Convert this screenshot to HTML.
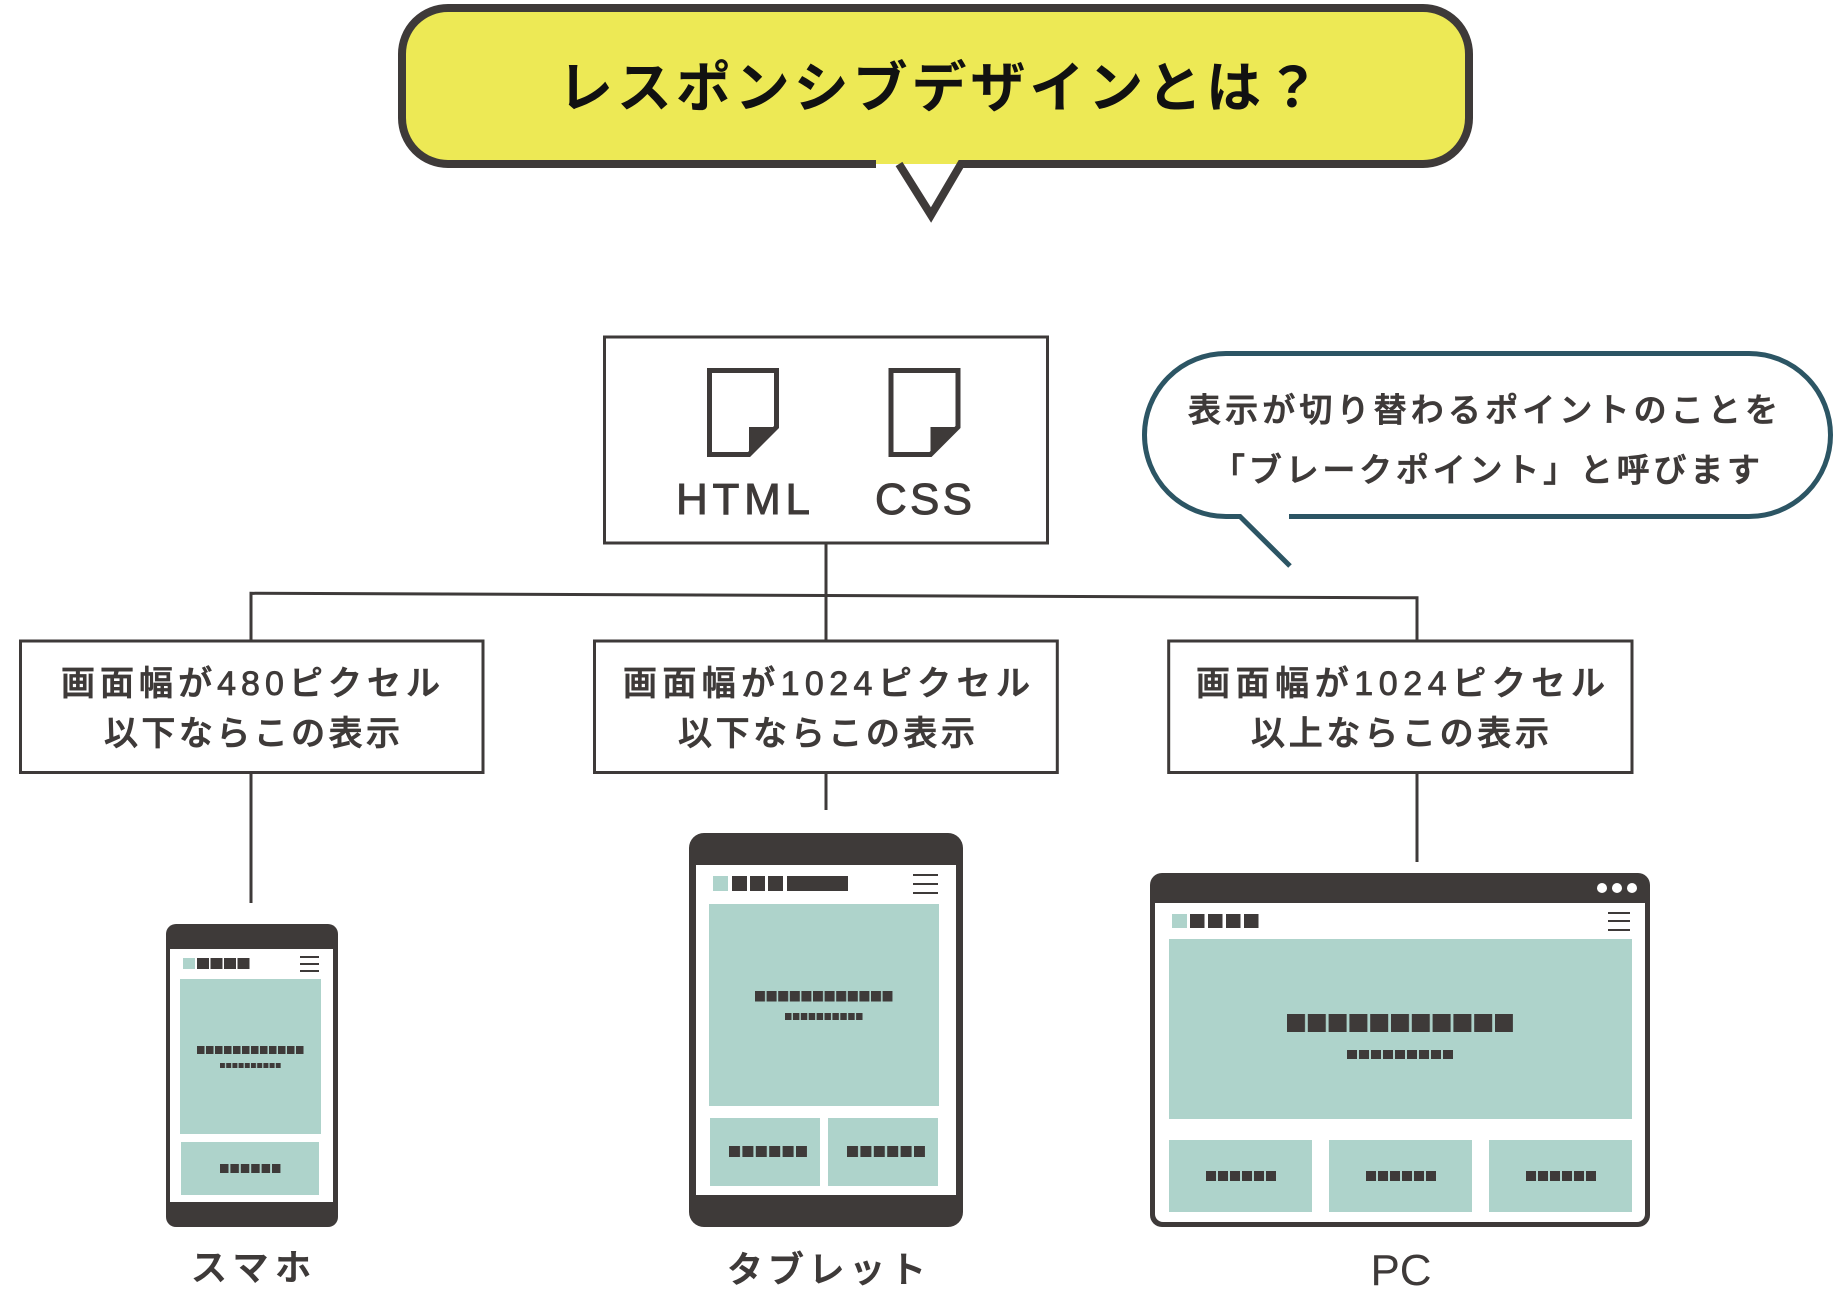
<!DOCTYPE html>
<html>
<head>
<meta charset="utf-8">
<style>
html,body{margin:0;padding:0;background:#fff;}
svg{display:block;}
text{font-family:"Liberation Sans","Noto Sans CJK JP",sans-serif;}
</style>
</head>
<body>
<svg width="1843" height="1296" viewBox="0 0 1843 1296" xmlns="http://www.w3.org/2000/svg">
<defs>
  <pattern id="phH" x="197" y="0" width="13.5" height="2000" patternUnits="userSpaceOnUse"><rect width="12" height="2000" fill="#3e3a39"/></pattern>
  <pattern id="phT" x="197" y="0" width="9" height="2000" patternUnits="userSpaceOnUse"><rect width="7.5" height="2000" fill="#3e3a39"/></pattern>
  <pattern id="phS" x="220" y="0" width="6.2" height="2000" patternUnits="userSpaceOnUse"><rect width="5" height="2000" fill="#3e3a39"/></pattern>
  <pattern id="phB" x="220" y="0" width="10.4" height="2000" patternUnits="userSpaceOnUse"><rect width="8.5" height="2000" fill="#3e3a39"/></pattern>

  <pattern id="tbH" x="732" y="0" width="18" height="2000" patternUnits="userSpaceOnUse"><rect width="15" height="2000" fill="#3e3a39"/></pattern>
  <pattern id="tbT" x="755" y="0" width="11.6" height="2000" patternUnits="userSpaceOnUse"><rect width="10" height="2000" fill="#3e3a39"/></pattern>
  <pattern id="tbS" x="785" y="0" width="7.9" height="2000" patternUnits="userSpaceOnUse"><rect width="6.5" height="2000" fill="#3e3a39"/></pattern>
  <pattern id="tbB1" x="729" y="0" width="13.4" height="2000" patternUnits="userSpaceOnUse"><rect width="11" height="2000" fill="#3e3a39"/></pattern>
  <pattern id="tbB2" x="847" y="0" width="13.4" height="2000" patternUnits="userSpaceOnUse"><rect width="11" height="2000" fill="#3e3a39"/></pattern>

  <pattern id="pcH" x="1190" y="0" width="18" height="2000" patternUnits="userSpaceOnUse"><rect width="14.5" height="2000" fill="#3e3a39"/></pattern>
  <pattern id="pcT" x="1287" y="0" width="20.8" height="2000" patternUnits="userSpaceOnUse"><rect width="18" height="2000" fill="#3e3a39"/></pattern>
  <pattern id="pcS" x="1347" y="0" width="12" height="2000" patternUnits="userSpaceOnUse"><rect width="10" height="2000" fill="#3e3a39"/></pattern>
  <pattern id="pcB1" x="1206" y="0" width="12" height="2000" patternUnits="userSpaceOnUse"><rect width="10" height="2000" fill="#3e3a39"/></pattern>
  <pattern id="pcB2" x="1366" y="0" width="12" height="2000" patternUnits="userSpaceOnUse"><rect width="10" height="2000" fill="#3e3a39"/></pattern>
  <pattern id="pcB3" x="1526" y="0" width="12" height="2000" patternUnits="userSpaceOnUse"><rect width="10" height="2000" fill="#3e3a39"/></pattern>
</defs>

<rect width="1843" height="1296" fill="#fff"/>

<!-- Title bubble -->
<rect x="402" y="8" width="1067" height="156" rx="46" fill="#ede955"/>
<path d="M876,164 H448 A46,46 0 0 1 402,118 V54 A46,46 0 0 1 448,8 H1423 A46,46 0 0 1 1469,54 V118 A46,46 0 0 1 1423,164 H961 L931,215 L899,164" fill="none" stroke="#3e3a39" stroke-width="8" stroke-linejoin="miter"/>
<text x="558" y="107" font-size="55" font-weight="700" fill="#111" textLength="762" lengthAdjust="spacing">レスポンシブデザインとは？</text>

<!-- Right speech bubble -->
<path d="M1289,516.5 H1749 A81.5,81.5 0 0 0 1749,353.5 H1226 A81.5,81.5 0 0 0 1226,516.5 H1240 L1290,566" fill="none" stroke="#2c5564" stroke-width="5" stroke-linejoin="miter"/>
<g font-size="33" font-weight="500" fill="#3e3a39" stroke="#3e3a39" stroke-width="0.8">
<text x="1188" y="421.5" textLength="590" lengthAdjust="spacing">表示が切り替わるポイントのことを</text>
<text x="1212" y="481.5" textLength="548" lengthAdjust="spacing">「ブレークポイント」と呼びます</text>
</g>

<!-- HTML/CSS box -->
<rect x="604.5" y="337" width="443" height="206" fill="none" stroke="#3e3a39" stroke-width="3"/>
<path d="M709.5,370.5 H776.5 V427 L749,454.5 H709.5 Z" fill="none" stroke="#3e3a39" stroke-width="5" stroke-linejoin="miter"/>
<path d="M749,427 H776.5 L749,454.5 Z" fill="#3e3a39"/>
<path d="M891,370.5 H958 V427 L930.5,454.5 H891 Z" fill="none" stroke="#3e3a39" stroke-width="5" stroke-linejoin="miter"/>
<path d="M930.5,427 H958 L930.5,454.5 Z" fill="#3e3a39"/>
<g font-size="44" fill="#3e3a39" stroke="#3e3a39" stroke-width="1">
<text x="676" y="514" textLength="134" lengthAdjust="spacing">HTML</text>
<text x="875" y="514" textLength="97" lengthAdjust="spacing">CSS</text>
</g>

<!-- connectors -->
<g fill="none" stroke="#3e3a39" stroke-width="3">
  <path d="M826,543 V641"/>
  <path d="M251,641 V593.3 L1417,597.8 V641"/>
  <path d="M251,773 V903"/>
  <path d="M826,773 V810"/>
  <path d="M1417,773 V862"/>
</g>

<!-- condition boxes -->
<g fill="none" stroke="#3e3a39" stroke-width="3">
  <rect x="20.5" y="641" width="462.5" height="131.5"/>
  <rect x="594.5" y="641" width="462.8" height="131.5"/>
  <rect x="1168.7" y="641" width="463.3" height="131.5"/>
</g>
<g font-size="34" font-weight="500" fill="#3e3a39" stroke="#3e3a39" stroke-width="0.8">
  <text x="61" y="695" textLength="379" lengthAdjust="spacing">画面幅が480ピクセル</text>
  <text x="104" y="745" textLength="296" lengthAdjust="spacing">以下ならこの表示</text>
  <text x="623" y="695" textLength="407" lengthAdjust="spacing">画面幅が1024ピクセル</text>
  <text x="678" y="745" textLength="297" lengthAdjust="spacing">以下ならこの表示</text>
  <text x="1196" y="695" textLength="409" lengthAdjust="spacing">画面幅が1024ピクセル</text>
  <text x="1251" y="745" textLength="298" lengthAdjust="spacing">以上ならこの表示</text>
</g>

<!-- Phone -->
<rect x="166" y="924" width="172" height="303" rx="10" fill="#3e3a39"/>
<rect x="170" y="949" width="163" height="253" fill="#fff"/>
<rect x="183" y="958" width="12" height="11" fill="#aed3cb"/>
<rect x="197" y="958" width="52.5" height="11" fill="url(#phH)"/>
<rect x="300" y="956" width="19" height="2" fill="#3e3a39"/>
<rect x="300" y="963" width="19" height="2" fill="#3e3a39"/>
<rect x="300" y="970" width="19" height="2" fill="#3e3a39"/>
<rect x="180" y="979" width="141" height="155" fill="#aed3cb"/>
<rect x="197" y="1046" width="106.5" height="8" fill="url(#phT)"/>
<rect x="220" y="1063" width="60.8" height="5" fill="url(#phS)"/>
<rect x="181" y="1142" width="138" height="53" fill="#aed3cb"/>
<rect x="220" y="1164" width="60.5" height="9" fill="url(#phB)"/>
<text x="191" y="1280" font-size="36" font-weight="500" fill="#3e3a39" stroke="#3e3a39" stroke-width="0.9" textLength="120" lengthAdjust="spacing">スマホ</text>

<!-- Tablet -->
<rect x="689" y="833" width="274" height="394" rx="15" fill="#3e3a39"/>
<rect x="696" y="865" width="260" height="330" fill="#fff"/>
<rect x="713" y="876" width="15" height="15" fill="#aed3cb"/>
<rect x="732" y="876" width="51" height="15" fill="url(#tbH)"/>
<rect x="787" y="876" width="61" height="15" fill="#3e3a39"/>
<rect x="913" y="874" width="25" height="2" fill="#3e3a39"/>
<rect x="913" y="883" width="25" height="2" fill="#3e3a39"/>
<rect x="913" y="892" width="25" height="2" fill="#3e3a39"/>
<rect x="709" y="904" width="230" height="202" fill="#aed3cb"/>
<rect x="755" y="991" width="137.6" height="10.5" fill="url(#tbT)"/>
<rect x="785" y="1013" width="77.6" height="7" fill="url(#tbS)"/>
<rect x="710" y="1118" width="110" height="68" fill="#aed3cb"/>
<rect x="828" y="1118" width="110" height="68" fill="#aed3cb"/>
<rect x="729" y="1146" width="78" height="11" fill="url(#tbB1)"/>
<rect x="847" y="1146" width="78" height="11" fill="url(#tbB2)"/>
<text x="727" y="1282" font-size="36" font-weight="500" fill="#3e3a39" stroke="#3e3a39" stroke-width="0.9" textLength="199" lengthAdjust="spacing">タブレット</text>

<!-- PC -->
<rect x="1150" y="873" width="500" height="354" rx="12" fill="#3e3a39"/>
<path d="M1155,903 H1645 V1214 A8,8 0 0 1 1637,1222 H1163 A8,8 0 0 1 1155,1214 Z" fill="#fff"/>
<circle cx="1602" cy="888" r="5" fill="#fff"/>
<circle cx="1617" cy="888" r="5" fill="#fff"/>
<circle cx="1632" cy="888" r="5" fill="#fff"/>
<rect x="1172" y="914" width="15" height="14" fill="#aed3cb"/>
<rect x="1190" y="914" width="68.5" height="14" fill="url(#pcH)"/>
<rect x="1608" y="912" width="22" height="2" fill="#3e3a39"/>
<rect x="1608" y="920" width="22" height="2" fill="#3e3a39"/>
<rect x="1608" y="929" width="22" height="2" fill="#3e3a39"/>
<rect x="1169" y="939" width="463" height="180" fill="#aed3cb"/>
<rect x="1287" y="1014" width="226" height="18" fill="url(#pcT)"/>
<rect x="1347" y="1050" width="106" height="9" fill="url(#pcS)"/>
<rect x="1169" y="1140" width="143" height="72" fill="#aed3cb"/>
<rect x="1329" y="1140" width="143" height="72" fill="#aed3cb"/>
<rect x="1489" y="1140" width="143" height="72" fill="#aed3cb"/>
<rect x="1206" y="1171" width="70" height="10" fill="url(#pcB1)"/>
<rect x="1366" y="1171" width="70" height="10" fill="url(#pcB2)"/>
<rect x="1526" y="1171" width="70" height="10" fill="url(#pcB3)"/>
<text x="1401" y="1285" font-size="44" fill="#3e3a39" text-anchor="middle">PC</text>
</svg>
</body>
</html>
